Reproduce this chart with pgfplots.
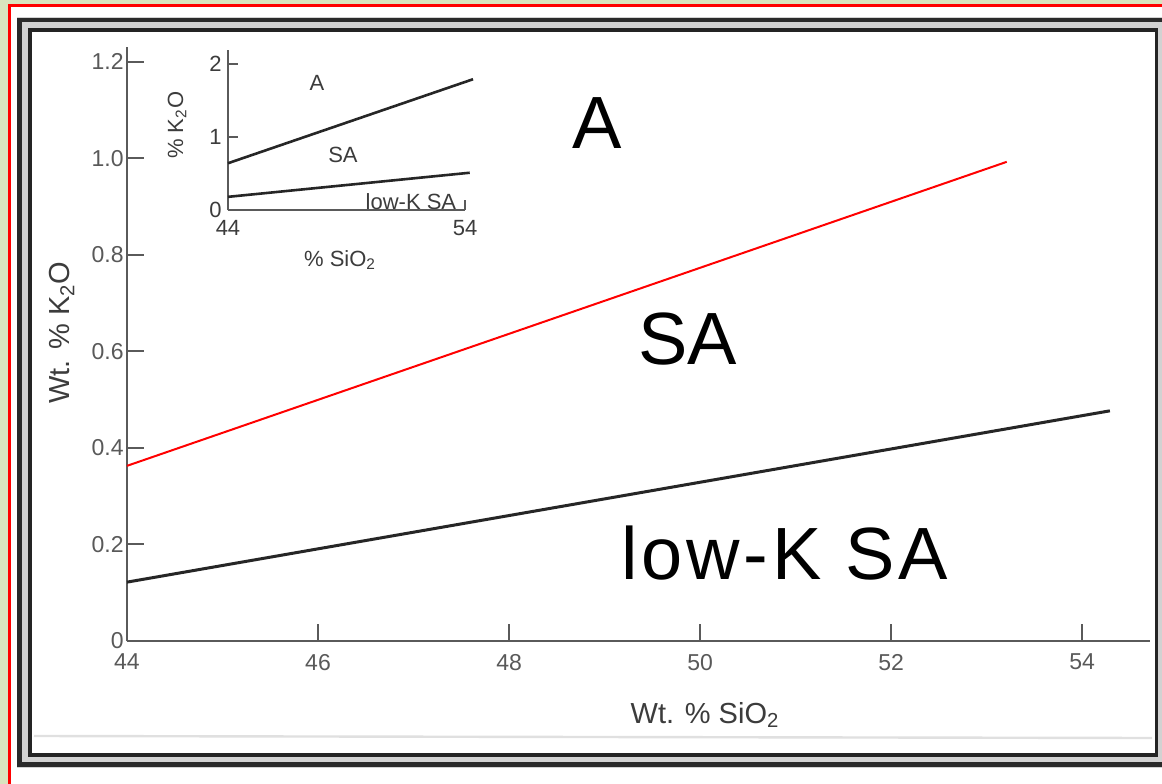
\documentclass[border=0pt]{standalone}
\usepackage{fontspec}
\setmainfont{Liberation Sans}
\newfontfamily\spacedfont[LetterSpace=5]{Liberation Sans}
\usepackage{pgfplots}
\pgfplotsset{compat=1.18}
\definecolor{bggreen}{HTML}{D9E4BF}
\definecolor{axgray}{HTML}{5A5A5A}
\definecolor{txtgray}{HTML}{3C3C3C}
\definecolor{framedark}{HTML}{2A2A2A}
\definecolor{framegap}{HTML}{D2D2D2}
\definecolor{linedark}{HTML}{262626}

\pgfplotstableread{
x y
44 0.363
53.21 0.993
}\redline
\pgfplotstableread{
x y
44 0.122
54.29 0.477
}\blackline
\pgfplotstableread{
x y
44 0.64
54.34 1.79
}\insetupper
\pgfplotstableread{
x y
44 0.18
54.2 0.51
}\insetlower

\begin{document}
\begin{tikzpicture}
\useasboundingbox (0,0) rectangle (581pt,391.5pt);
\clip (0,0) rectangle (581pt,391.5pt);
% decorative frames in pixel coordinates
\begin{scope}[x=0.5pt,y=-0.5pt,shift={(0,391.5pt)}]
  \fill[bggreen] (-5,-5) rectangle (1170,790);
  \fill[white] (8,4) rectangle (1180,800);
  \draw[red,line width=1.5pt] (9.5,800) -- (9.5,5.5) -- (1180,5.5);
  \fill[framegap] (17,17) rectangle (1175,768);
  \draw[framedark,line width=2.4pt] (19.5,20) rectangle (1175,764.5);
  \fill[white] (30,30) rectangle (1156,755);
  \draw[framedark!85!black,line width=1.7pt] (30,30) rectangle (1156.5,755);
  \draw[black!12,line width=1.2pt] (34,736) -- (1152,738);
\end{scope}

% main axis
\begin{axis}[
  at={(63.5pt,71pt)}, anchor=south west, scale only axis,
  width=511.5pt, height=297pt,
  xmin=44, xmax=54.71, ymin=0, ymax=1.231,
  axis x line=bottom, axis y line=left,
  axis line style={-, draw=axgray, line width=1.3pt},
  tick align=inside, major tick length=8.5pt,
  tick style={draw=axgray, line width=1pt},
  xtick={44,46,48,50,52,54}, xticklabels={44,46,48,50,52,54},
  ytick={0,0.2,0.4,0.6,0.8,1.0,1.2}, yticklabels={0,0.2,0.4,0.6,0.8,1.0,1.2},
  /pgf/number format/assume math mode=true,
  ticklabel style={font=\fontsize{11.5}{13}\selectfont, text=txtgray!85},
  yticklabel style={inner sep=1.5pt},
  xticklabel style={yshift=-3pt},
  xlabel={Wt. \% SiO\textsubscript{2}},
  ylabel={Wt. \% K\textsubscript{2}O},
  xlabel style={at={(axis description cs:0.565,0)}, anchor=center, yshift=-37pt,
    font=\fontsize{14.5}{16}\selectfont, text=txtgray},
  ylabel style={at={(axis description cs:0,0.519)}, anchor=center, yshift=32.5pt,
    font=\fontsize{14.5}{16}\selectfont, text=txtgray},
  clip=false,
]
\addplot[red, line width=1pt] table[x=x,y=y] {\redline};
\addplot[linedark, line width=1.5pt] table[x=x,y=y] {\blackline};
\node[font=\fontsize{37}{44}\selectfont, inner sep=0, anchor=center] at (axis cs:48.92,1.074) {A};
\node[font=\fontsize{37}{44}\selectfont, inner sep=0, anchor=center] at (axis cs:49.87,0.626) {SA};
\node[font=\spacedfont\fontsize{37}{44}\selectfont, inner sep=0, anchor=center] at (axis cs:50.89,0.182) {low-K SA};
\end{axis}

% inset axis
\begin{axis}[
  at={(114pt,286.5pt)}, anchor=south west, scale only axis,
  width=118.5pt, height=80pt,
  xmin=44, xmax=54, ymin=0, ymax=2.19,
  axis x line=bottom, axis y line=left,
  axis line style={-, draw=axgray, line width=1.2pt},
  tick align=inside, major tick length=5pt,
  tick style={draw=axgray, line width=0.9pt},
  xtick={44,54}, xticklabels={44,54},
  ytick={0,1,2}, yticklabels={0,1,2},
  ticklabel style={font=\fontsize{11}{12}\selectfont, text=txtgray},
  yticklabel style={inner sep=3pt},
  xticklabel style={inner sep=2pt, yshift=-3pt},
  xlabel={\% SiO\textsubscript{2}},
  ylabel={\% K\textsubscript{2}O},
  xlabel style={at={(axis description cs:0.473,0)}, anchor=center, yshift=-25pt,
    font=\fontsize{11}{12}\selectfont, text=txtgray},
  ylabel style={at={(axis description cs:0,0.53)}, anchor=center, yshift=25.5pt,
    font=\fontsize{11}{12}\selectfont, text=txtgray},
  clip=false,
]
\addplot[linedark, line width=1.3pt] table[x=x,y=y] {\insetupper};
\addplot[linedark, line width=1.3pt] table[x=x,y=y] {\insetlower};
\node[font=\fontsize{11}{12}\selectfont, text=txtgray, inner sep=0] at (axis cs:47.75,1.74) {A};
\node[font=\fontsize{11}{12}\selectfont, text=txtgray, inner sep=0] at (axis cs:48.85,0.75) {SA};
\node[font=\fontsize{11}{12}\selectfont, text=txtgray, inner sep=0] at (axis cs:51.72,0.11) {low-K SA};
\end{axis}
\end{tikzpicture}
\end{document}
